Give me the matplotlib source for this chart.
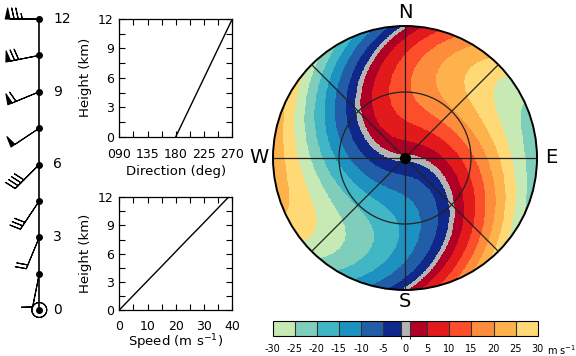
import numpy as np
import matplotlib
matplotlib.use("Agg")
import matplotlib.pyplot as plt
from matplotlib.colors import ListedColormap, BoundaryNorm
from matplotlib.patches import Circle
from matplotlib.ticker import MultipleLocator

# ---- wind profile ----
heights = [0, 1.5, 3, 4.5, 6, 7.5, 9, 10.5, 12]          # km
directions = [180, 191.25, 202.5, 213.75, 225, 236.25, 247.5, 258.75, 270]  # deg
speeds = [0, 4.8, 9.65, 14.5, 19.3, 24.1, 29.0, 33.8, 38.6]  # m s-1
height_labels = ["0", "3", "6", "9", "12"]
label_heights = [0, 3, 6, 9, 12]

# ---- Doppler display settings ----
nyquist = 30.0
cbar_bounds = [-30, -25, -20, -15, -10, -5, -1, 1, 5, 10, 15, 20, 25, 30]
cbar_colors = ["#c7e9b4", "#7fcdbb", "#41b6c4", "#1d91c0", "#225ea8", "#10288a",
               "#b4b4b4",
               "#b10026", "#e31a1c", "#fc4e2a", "#fd8d3c", "#feb24c", "#fed976"]
cbar_ticks = [-30, -25, -20, -15, -10, -5, 0, 5, 10, 15, 20, 25, 30]

W, H = 576, 356
plt.rcParams['font.family'] = ['DejaVu Sans']
fig = plt.figure(figsize=(W / 100, H / 100), dpi=100)


def px(l, t, r, b):
    return [l / W, 1 - b / H, (r - l) / W, (b - t) / H]


# ---------------- barb column ----------------
axb = fig.add_axes(px(0, 19, 80, 310))
axb.set_xlim(-39.3, 40.7)
axb.set_ylim(0, 12)
axb.axis('off')
h = np.array(heights)
d = np.deg2rad(directions)
s = np.array(speeds)
axb.plot(np.zeros_like(h), h, color='black', lw=1.2, clip_on=False, zorder=2)
axb.plot(np.zeros_like(h), h, 'o', color='black', ms=4, clip_on=False, zorder=3)
u = -s * np.sin(d)
v = -s * np.cos(d)
axb.barbs(np.zeros_like(h), h, u, v, length=7, pivot='tip',
          barb_increments=dict(half=2.5, full=5, flag=25),
          sizes=dict(emptybarb=0.22, height=0.32, spacing=0.12, width=0.14),
          linewidth=0.8, color='black', clip_on=False, zorder=2)
for lh, lt in zip(label_heights, height_labels):
    axb.annotate(lt, (0, lh), xytext=(10, 0), textcoords='offset points',
                 ha='left', va='center', fontsize=10, annotation_clip=False)

# ---------------- direction panel ----------------
axd = fig.add_axes(px(119.3, 19, 232.3, 136.7))
axd.plot(directions, heights, color='black', lw=1)
axd.set_xlim(90, 270)
axd.set_ylim(0, 12)
axd.set_xticks([90, 135, 180, 225, 270])
axd.set_xticklabels(["090", "135", "180", "225", "270"])
axd.xaxis.set_minor_locator(MultipleLocator(22.5))
axd.tick_params(axis='x', which='both', pad=8)
axd.set_xlabel("Direction (deg)", fontsize=9.5, labelpad=3)

# ---------------- speed panel ----------------
axs = fig.add_axes(px(119.3, 197.3, 232.3, 310))
axs.plot(speeds, heights, color='black', lw=1)
axs.set_xlim(0, 40)
axs.set_ylim(0, 12)
axs.set_xticks([0, 10, 20, 30, 40])
axs.xaxis.set_minor_locator(MultipleLocator(5))
axs.tick_params(axis='x', which='both', pad=7)
axs.set_xlabel("Speed (m s$^{-1}$)", fontsize=9.5, labelpad=0)

for ax in (axd, axs):
    ax.set_yticks([0, 3, 6, 9, 12])
    ax.yaxis.set_minor_locator(MultipleLocator(1.5))
    ax.set_ylabel("Height (km)", fontsize=9.5, labelpad=4)
    ax.tick_params(which='both', direction='in', top=True, right=True,
                   labelsize=9)
    ax.tick_params(axis='y', which='both', pad=4)
    ax.tick_params(which='major', length=4, width=0.8)
    ax.tick_params(which='minor', length=4, width=0.8)
    for sp in ax.spines.values():
        sp.set_linewidth(0.9)

# ---------------- PPI velocity display ----------------
cx, cy, R = 405, 158, 132
axp = fig.add_axes(px(cx - R, cy - R, cx + R, cy + R))
axp.set_xlim(-1, 1)
axp.set_ylim(-1, 1)
axp.set_aspect('equal')
axp.axis('off')

n = 420
g = np.linspace(-1, 1, n)
X, Y = np.meshgrid(g, g)
r = np.hypot(X, Y)
az = np.arctan2(X, Y)
hh = r * max(heights)
dd = np.deg2rad(np.interp(hh, heights, directions))
ss = np.interp(hh, heights, speeds)
vr = -ss * np.cos(az - dd)
vf = np.mod(vr + nyquist, 2 * nyquist) - nyquist
vf = np.ma.masked_where(r > 1.0, vf)

cmap = ListedColormap(cbar_colors)
norm = BoundaryNorm(cbar_bounds, cmap.N)
im = axp.imshow(vf, origin='lower', extent=[-1, 1, -1, 1], cmap=cmap, norm=norm,
                interpolation='nearest')
clip = Circle((0, 0), 1, transform=axp.transData)
im.set_clip_path(clip)

axp.add_patch(Circle((0, 0), 1, fill=False, lw=1.4, color='black', clip_on=False))
axp.add_patch(Circle((0, 0), 0.5, fill=False, lw=0.9, color='#222222'))
for ang in range(0, 180, 45):
    a = np.deg2rad(ang)
    axp.plot([-np.sin(a), np.sin(a)], [-np.cos(a), np.cos(a)], color='#222222', lw=0.9)
axp.plot([0], [0], 'o', color='black', ms=7)
for lab, (tx, ty) in {"N": (0, 1.1), "S": (0, -1.085), "E": (1.11, 0), "W": (-1.105, 0)}.items():
    axp.text(tx, ty, lab, ha='center', va='center', fontsize=14, clip_on=False)

# ---------------- colorbar ----------------
axc = fig.add_axes(px(272.7, 320.7, 537.7, 336))
sm = matplotlib.cm.ScalarMappable(norm=norm, cmap=cmap)
cb = fig.colorbar(sm, cax=axc, orientation='horizontal', spacing='proportional',
                  ticks=cbar_ticks, drawedges=True)
cb.outline.set_linewidth(0.8)
cb.dividers.set_linewidth(0.8)
cb.dividers.set_color('#333333')
axc.tick_params(length=0, labelsize=7, pad=6)
axc.set_xticklabels([str(t) for t in cbar_ticks])
axc.text(1.035, -0.92, "m s$^{-1}$", transform=axc.transAxes, fontsize=7,
         ha='left', va='center')

fig.savefig("out.png", dpi=100)
